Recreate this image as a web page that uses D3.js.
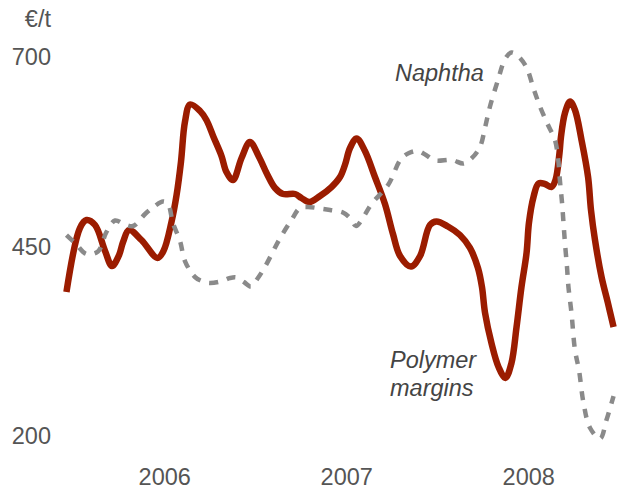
<!DOCTYPE html>
<html>
<head>
<meta charset="utf-8">
<script src="https://cdn.jsdelivr.net/npm/d3@7"></script>
<style>
  html, body { margin: 0; padding: 0; background: #ffffff; }
  svg { display: block; }
  text { font-family: "Liberation Sans", Arial, Helvetica, sans-serif; }
</style>
</head>
<body>
<svg id="chart" width="617" height="489"></svg>
<script>
// Price series, €/t, sampled as [decimal year, value]
const polymerMargins = [
  [2005.963, 389.3], [2006.037, 473.7], [2006.073, 484.3], [2006.120, 477.7],
  [2006.175, 443.4], [2006.213, 423.6], [2006.252, 438.1], [2006.274, 455.3],
  [2006.307, 471.1], [2006.375, 457.9], [2006.463, 434.2], [2006.496, 443.4],
  [2006.540, 481.7], [2006.568, 517.3], [2006.592, 560.8], [2006.614, 613.6],
  [2006.642, 636.7], [2006.697, 628.1], [2006.732, 616.2], [2006.771, 593.8],
  [2006.815, 568.7], [2006.842, 547.6], [2006.878, 537.1], [2006.925, 566.1],
  [2006.971, 587.2], [2007.021, 567.4], [2007.065, 545.0], [2007.109, 526.5],
  [2007.153, 518.6], [2007.219, 518.6], [2007.254, 513.3], [2007.298, 508.0],
  [2007.356, 516.0], [2007.419, 527.8], [2007.466, 541.0], [2007.493, 556.9],
  [2007.521, 579.3], [2007.557, 591.8], [2007.603, 575.3], [2007.658, 541.0],
  [2007.713, 505.4], [2007.757, 465.8], [2007.796, 436.8], [2007.856, 423.0],
  [2007.906, 436.8], [2007.960, 477.7], [2007.996, 482.3], [2008.059, 475.7],
  [2008.125, 464.5], [2008.180, 447.4], [2008.224, 421.0], [2008.246, 395.9],
  [2008.263, 361.6], [2008.298, 322.0], [2008.337, 290.4], [2008.375, 275.9],
  [2008.408, 295.6], [2008.436, 343.1], [2008.463, 395.9], [2008.491, 440.8],
  [2008.504, 480.3], [2008.529, 514.6], [2008.557, 532.5], [2008.592, 531.8],
  [2008.628, 527.8], [2008.650, 537.1], [2008.672, 572.7], [2008.680, 593.8],
  [2008.702, 625.5], [2008.730, 640.6], [2008.757, 629.4], [2008.793, 589.8],
  [2008.829, 541.0], [2008.845, 497.5], [2008.867, 457.9], [2008.903, 409.1],
  [2008.938, 374.8], [2008.969, 343.1]
];

const naphtha = [
  [2005.963, 464.5], [2006.015, 452.6], [2006.073, 439.4], [2006.136, 442.7],
  [2006.183, 468.5], [2006.230, 483.6], [2006.279, 479.0], [2006.329, 476.4],
  [2006.395, 492.2], [2006.449, 502.8], [2006.493, 508.7], [2006.521, 505.4],
  [2006.548, 480.3], [2006.587, 456.6], [2006.614, 430.2], [2006.669, 409.1],
  [2006.713, 403.2], [2006.752, 401.2], [2006.818, 403.8], [2006.862, 407.8],
  [2006.897, 408.4], [2006.938, 402.5], [2006.977, 396.6], [2007.015, 407.8],
  [2007.059, 424.9], [2007.131, 457.9], [2007.199, 484.3], [2007.246, 500.1],
  [2007.290, 501.5], [2007.356, 499.5], [2007.411, 497.5], [2007.482, 494.2],
  [2007.521, 486.9], [2007.554, 476.4], [2007.598, 489.6], [2007.639, 505.4],
  [2007.730, 530.5], [2007.801, 564.8], [2007.845, 572.7], [2007.895, 575.3],
  [2007.938, 570.1], [2007.988, 562.8], [2008.081, 563.5], [2008.145, 558.8],
  [2008.191, 566.1], [2008.235, 580.6], [2008.263, 606.3], [2008.290, 634.0],
  [2008.334, 669.0], [2008.373, 696.7], [2008.408, 705.3], [2008.444, 700.7],
  [2008.491, 685.5], [2008.529, 658.0], [2008.565, 633.8], [2008.609, 609.6],
  [2008.647, 589.8], [2008.664, 566.1], [2008.675, 534.4], [2008.686, 506.7],
  [2008.694, 480.3], [2008.702, 454.0], [2008.713, 422.7], [2008.721, 396.3],
  [2008.738, 361.2], [2008.757, 312.8], [2008.779, 286.4], [2008.804, 242.9],
  [2008.840, 209.9], [2008.895, 196.0], [2008.930, 220.4], [2008.969, 252.1]
];

// Axis ticks: year labels sit at mid-year, values on the left
const yearTicks = [2006.5, 2007.5, 2008.5];
const yearLabels = ["2006", "2007", "2008"];
const valueTicks = [200, 450, 700];
const unitLabel = "€/t";

const svg = d3.select("#chart");

const x = d3.scaleLinear().domain([2006.5, 2008.5]).range([164.2, 528.2]);
const y = d3.scaleLinear().domain([200, 700]).range([435.5, 56.5]);

const axisColor = "#555555";
const fontSize = "23.5px";

// Y axis (labels only)
const yAxis = svg.append("g")
  .attr("transform", "translate(51,0)")
  .call(d3.axisLeft(y).tickValues(valueTicks).tickSize(0).tickPadding(0));
yAxis.select(".domain").remove();
yAxis.selectAll("text")
  .attr("font-size", fontSize)
  .attr("font-family", "'Liberation Sans', Arial, sans-serif")
  .attr("fill", axisColor)
  .attr("dy", "0.36em");

// X axis (labels only)
const xAxis = svg.append("g")
  .attr("transform", "translate(0,468)")
  .call(d3.axisBottom(x).tickValues(yearTicks)
    .tickFormat((d, i) => yearLabels[i]).tickSize(0).tickPadding(0));
xAxis.select(".domain").remove();
xAxis.selectAll("text")
  .attr("font-size", fontSize)
  .attr("font-family", "'Liberation Sans', Arial, sans-serif")
  .attr("fill", axisColor)
  .attr("dy", "0.71em");

// Unit label above the value axis
svg.append("text")
  .attr("x", 51).attr("y", 27)
  .attr("text-anchor", "end")
  .attr("font-size", fontSize)
  .attr("fill", axisColor)
  .text(unitLabel);

const line = d3.line()
  .x(d => x(d[0]))
  .y(d => y(d[1]))
  .curve(d3.curveCatmullRom.alpha(0.5));

// Polymer margins: solid dark red
svg.append("path")
  .datum(polymerMargins)
  .attr("d", line)
  .attr("fill", "none")
  .attr("stroke", "#9b1c00")
  .attr("stroke-width", 6.5)
  .attr("stroke-linejoin", "round")
  .attr("stroke-linecap", "butt");

// Naphtha: dashed grey
svg.append("path")
  .datum(naphtha)
  .attr("d", line)
  .attr("fill", "none")
  .attr("stroke", "#8a8a8a")
  .attr("stroke-width", 4.5)
  .attr("stroke-dasharray", "9,9")
  .attr("stroke-linecap", "butt");

// Series labels
const labelColor = "#444444";
svg.append("text")
  .attr("x", 395).attr("y", 81)
  .attr("font-size", fontSize)
  .attr("font-style", "italic")
  .attr("fill", labelColor)
  .text("Naphtha");

const poly = svg.append("text")
  .attr("font-size", fontSize)
  .attr("font-style", "italic")
  .attr("fill", labelColor);
poly.append("tspan").attr("x", 390).attr("y", 368).text("Polymer");
poly.append("tspan").attr("x", 390).attr("y", 396).text("margins");
</script>
</body>
</html>
